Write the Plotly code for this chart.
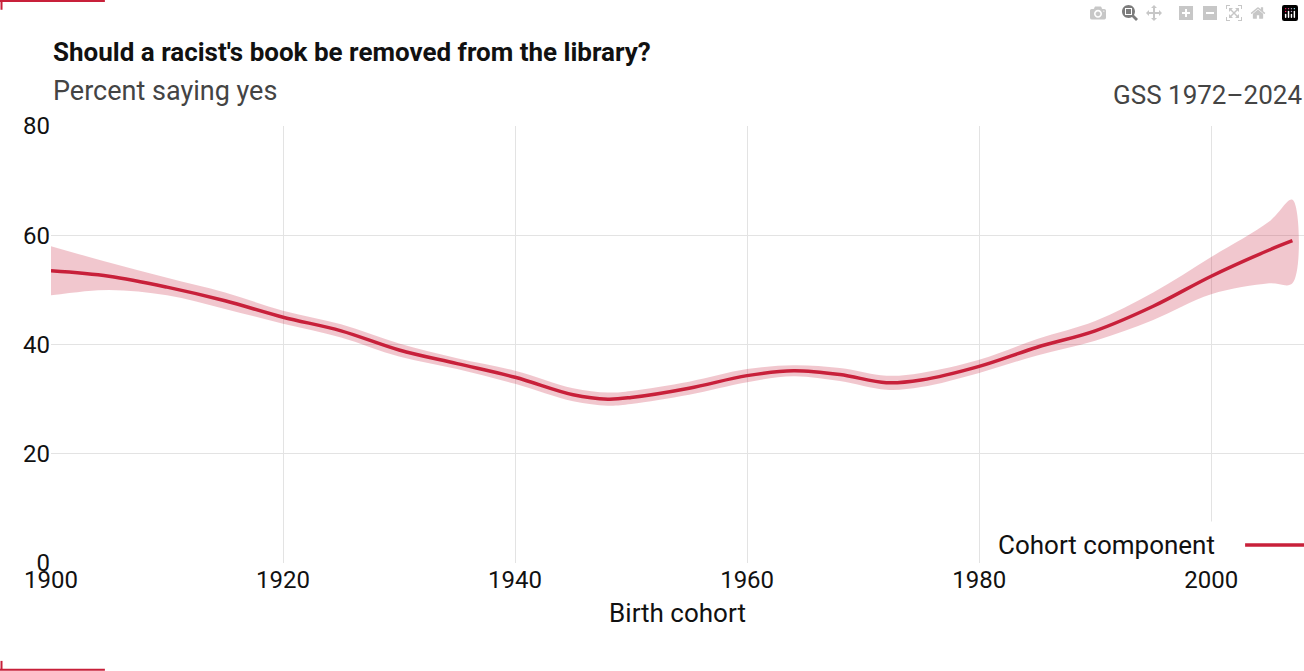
import plotly.graph_objects as go

years = [1900, 1905, 1910, 1915, 1920, 1925, 1930, 1935, 1940, 1945, 1948, 1950, 1955,
         1960, 1964, 1968, 1972, 1975, 1980, 1985, 1990, 1995, 2000, 2005, 2007]
est = [53.5, 52.5, 50.5, 48, 45, 42.5, 39, 36.5, 34, 30.8, 30, 30.3, 32,
       34.3, 35.2, 34.5, 33, 33.5, 36, 39.5, 42.5, 47, 52.5, 57.3, 59]
upper = [58, 55, 52.2, 49.5, 46.2, 43.7, 40.2, 37.5, 35.2, 32, 31.2, 31.5, 33.2,
         35.5, 36.2, 35.7, 34.3, 34.8, 37.2, 41, 44.3, 49.5, 56, 62.5, 66.5]
lower = [49, 50, 49, 46.5, 43.8, 41.3, 37.8, 35.5, 32.8, 29.6, 28.8, 29.1, 30.8,
         33.1, 34.2, 33.3, 31.7, 32.2, 34.8, 38, 40.7, 44.5, 49.2, 51.2, 51.2]

red = "#c8203a"
fig = go.Figure()
fig.add_trace(go.Scatter(x=years + years[::-1], y=upper + lower[::-1], fill="toself",
                         fillcolor="rgba(200,32,58,0.25)", line=dict(width=0, shape="spline"),
                         hoverinfo="skip", showlegend=False))
fig.add_trace(go.Scatter(x=years, y=est, mode="lines", line=dict(color=red, width=3.5, shape="spline"),
                         name="Cohort component", showlegend=False))

fig.update_layout(
    autosize=True, paper_bgcolor="white", plot_bgcolor="white",
    margin=dict(l=51, r=0, t=126, b=108),
    font=dict(family="Roboto", size=24, color="#111"),
    xaxis=dict(range=[1900, 2008], tickvals=[1900, 1920, 1940, 1960, 1980, 2000],
               showgrid=True, gridcolor="#e3e3e3", zeroline=False, ticks="", ticklen=0,
               title=dict(text="Birth cohort", font=dict(size=26), standoff=10)),
    yaxis=dict(range=[0, 80], tickvals=[0, 20, 40, 60, 80], showgrid=True, gridcolor="#e3e3e3",
               zeroline=False, ticks="", tickfont=dict(size=24)),
    showlegend=False,
)
fig.add_annotation(text="<b>Should a racist's book be removed from the library?</b>", xref="paper", yref="paper",
                   x=0, y=1, yshift=74, xanchor="left", yanchor="middle", showarrow=False,
                   font=dict(size=26, color="#111"))
fig.add_annotation(text="Percent saying yes", xref="paper", yref="paper", x=0, y=1, yshift=35,
                   xanchor="left", yanchor="middle", showarrow=False, font=dict(size=27, color="#444"))
fig.add_annotation(text="GSS 1972–2024", xref="paper", yref="paper", x=1, y=1, yshift=31,
                   xanchor="right", yanchor="middle", showarrow=False, font=dict(size=26, color="#444"))
fig.add_annotation(text="Cohort component", xref="paper", yref="paper", x=0.936, y=0.041,
                   xanchor="right", yanchor="middle", showarrow=False, bgcolor="white",
                   borderpad=8, font=dict(size=26, color="#111"))
fig.add_shape(type="rect", xref="paper", yref="paper", x0=0.934, x1=1, y0=0.0, y1=0.085,
              fillcolor="white", line=dict(width=0), layer="above")
fig.add_shape(type="line", xref="paper", yref="paper", x0=0.953, x1=1, y0=0.041, y1=0.041,
              line=dict(color=red, width=3.5), layer="above")
# corner marks
fig.add_shape(type="line", xref="paper", yref="paper", x0=-0.0407, x1=0.043, y0=1.286, y1=1.286,
              line=dict(color=red, width=2))
fig.add_shape(type="line", xref="paper", yref="paper", x0=-0.0395, x1=-0.0395, y0=1.286, y1=1.266,
              line=dict(color=red, width=2))
fig.add_shape(type="line", xref="paper", yref="paper", x0=-0.0407, x1=0.043, y0=-0.244, y1=-0.244,
              line=dict(color=red, width=2))
fig.add_shape(type="line", xref="paper", yref="paper", x0=-0.0395, x1=-0.0395, y0=-0.244, y1=-0.224,
              line=dict(color=red, width=2))
fig.write_html("out.html", default_width="100vw", default_height="100vh",
               post_script="document.body.style.margin='0';document.body.style.overflow='hidden';"
                           "Plotly.Plots.resize(document.getElementById('{plot_id}'));")
